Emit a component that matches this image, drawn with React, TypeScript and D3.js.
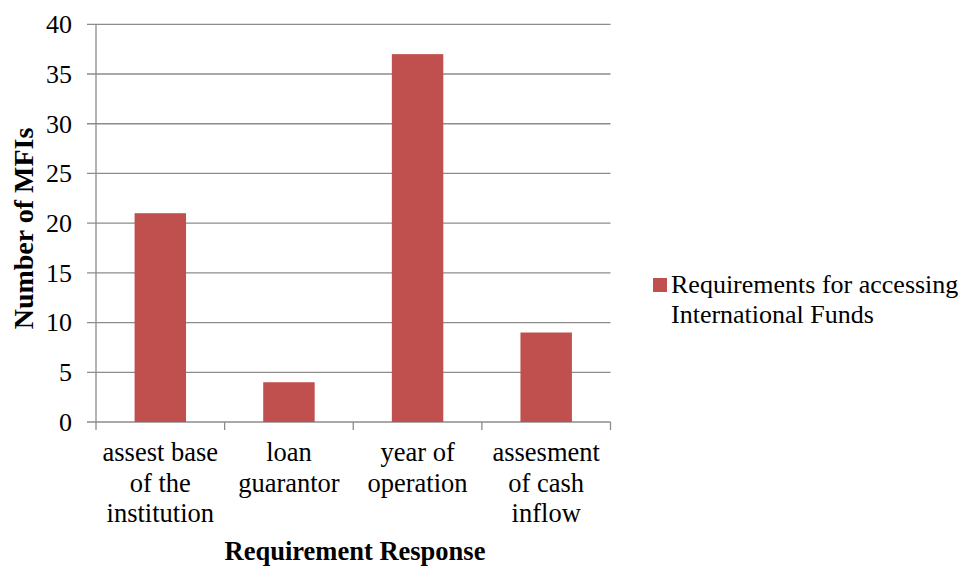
import React from "react";
import * as d3 from "d3";

const categories: string[][] = [
  ["assest base", "of the", "institution"],
  ["loan", "guarantor"],
  ["year of", "operation"],
  ["assesment", "of cash", "inflow"],
];
const values: number[] = [21, 4, 37, 9];
const yTicks: number[] = [0, 5, 10, 15, 20, 25, 30, 35, 40];
const seriesName: string[] = ["Requirements for accessing", "International Funds"];
const yTitle = "Number of MFIs";
const xTitle = "Requirement Response";

const W = 967;
const H = 567;
const left = 96;
const right = 610.5;
const top = 24.3;
const bottom = 422;
const ff = { fontFamily: "Liberation Serif, Tinos, 'Times New Roman', serif" };
const barColor = "#C0504D";
const gridColor = "#8C8C8C";

export default function App() {
  const keys = categories.map((_, i) => String(i));
  const x = d3.scaleBand<string>().domain(keys).range([left, right]).paddingInner(0).paddingOuter(0);
  const y = d3.scaleLinear().domain([0, 40]).range([bottom, top]);
  const bw = x.bandwidth() * 0.4;

  return (
    <svg width={W} height={H} style={{ position: "absolute", left: 0, top: 0, background: "#fff" }}>
      {yTicks.map((t) => (
        <g key={t}>
          <line x1={87} x2={right} y1={y(t)} y2={y(t)} stroke={gridColor} strokeWidth={1.3} />
          <text x={72} y={y(t)} dy="0.34em" textAnchor="end" fontSize={26} fill="#000" style={ff}>
            {t}
          </text>
        </g>
      ))}
      <line x1={left} x2={left} y1={top} y2={bottom + 8} stroke={gridColor} strokeWidth={1.3} />
      {keys.map((k) => (
        <line key={"t" + k} x1={(x(k) as number) + x.bandwidth()} x2={(x(k) as number) + x.bandwidth()} y1={bottom} y2={bottom + 8} stroke={gridColor} strokeWidth={1.3} />
      ))}
      {values.map((v, i) => {
        const cx = (x(String(i)) as number) + x.bandwidth() / 2;
        return <rect key={"b" + i} x={cx - bw / 2} y={y(v)} width={bw} height={y(0) - y(v)} fill={barColor} />;
      })}
      {categories.map((lines, i) => {
        const cx = (x(String(i)) as number) + x.bandwidth() / 2;
        return (
          <text key={"c" + i} x={cx} y={461} textAnchor="middle" fontSize={26.5} fill="#000" style={ff}>
            {lines.map((l, j) => (
              <tspan key={j} x={cx} y={461 + j * 30.5}>
                {l}
              </tspan>
            ))}
          </text>
        );
      })}
      <text transform={`translate(33,228.5) rotate(-90)`} textAnchor="middle" fontSize={28} fontWeight="bold" fill="#000" style={ff}>
        {yTitle}
      </text>
      <text x={355} y={560} textAnchor="middle" fontSize={26.5} fontWeight="bold" fill="#000" style={ff}>
        {xTitle}
      </text>
      <rect x={653} y={278} width={14} height={14} fill={barColor} />
      <text x={671} y={293.3} fontSize={26} fill="#000" style={ff}>
        <tspan x={671} y={293.3}>{seriesName[0]}</tspan>
        <tspan x={671} y={323.3}>{seriesName[1]}</tspan>
      </text>
    </svg>
  );
}
